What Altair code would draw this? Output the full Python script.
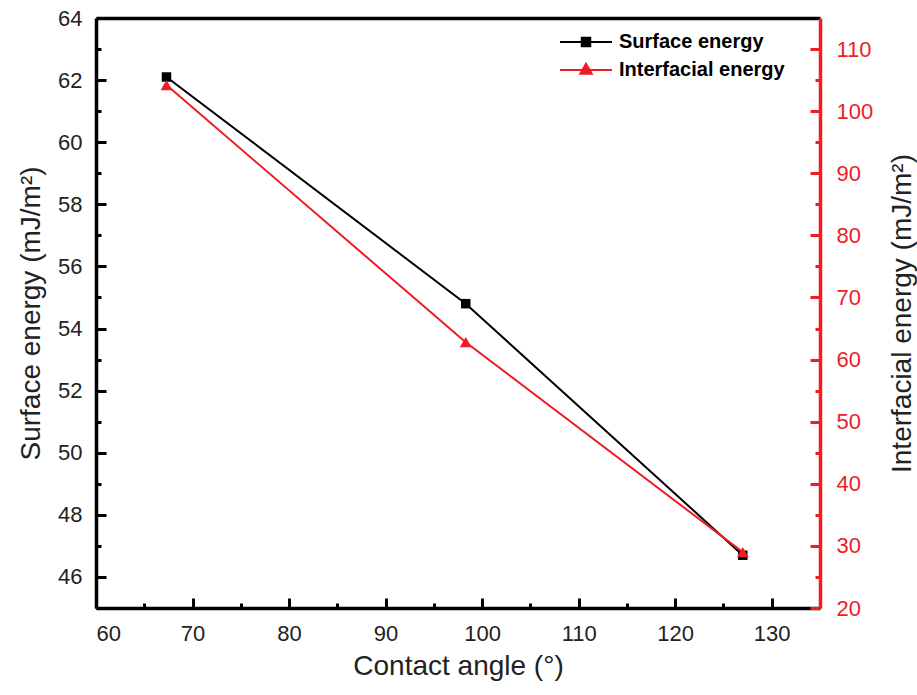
import altair as alt
import pandas as pd

# Measured points: contact angle vs. surface / interfacial energy
angles = [67.3, 98.3, 127.0]
surface_energy = [62.1, 54.8, 46.7]
interfacial_energy = [104.2, 62.8, 29.0]

series_names = ["Surface energy", "Interfacial energy"]
series_colors = ["black", "#ee1c25"]

# Tick positions
x_major_ticks = [60, 70, 80, 90, 100, 110, 120, 130]
x_minor_ticks = [65, 75, 85, 95, 105, 115, 125]
left_major_ticks = [46, 48, 50, 52, 54, 56, 58, 60, 62, 64]
left_minor_ticks = [45, 47, 49, 51, 53, 55, 57, 59, 61, 63]
right_major_ticks = [20, 30, 40, 50, 60, 70, 80, 90, 100, 110]
right_minor_ticks = [25, 35, 45, 55, 65, 75, 85, 95, 105]

RED = series_colors[1]
FONT = "Liberation Sans"
TEXT = "#222222"
TITLE_SIZE = 28
MAJOR = 10
MINOR = 5

surf = pd.DataFrame({"angle": angles, "value": surface_energy})
intf = pd.DataFrame({"angle": angles, "value": interfacial_energy})
legend_df = pd.DataFrame({"series": series_names, "angle": [60.0, 60.0], "value": [20.0, 20.0]})

x_scale = alt.Scale(domain=[60, 135], nice=False, zero=False)
left_scale = alt.Scale(domain=[45, 64], nice=False, zero=False)
right_scale = alt.Scale(domain=[20, 115], nice=False, zero=False)


# Inward-pointing ticks: shift each axis into the plot by its tick length
def tick_axis(orient, values, size, color="black", labels=False, **kw):
    base = dict(
        orient=orient, values=values, offset=-size, tickSize=size,
        tickWidth=3, tickColor=color, domain=False, grid=False,
        labels=labels, title=None,
    )
    if labels:
        base.update(labelFont=FONT, labelFontSize=22, labelColor=kw.pop("labelColor", TEXT))
    base.update(kw)
    return alt.Axis(**base)


# Plain frame edge (domain line only)
def edge_axis(orient, color="black"):
    return alt.Axis(
        orient=orient, domain=True, domainColor=color, domainWidth=3.5,
        ticks=False, labels=False, grid=False, title=None, offset=0,
    )


title_style = dict(titleFont=FONT, titleFontSize=TITLE_SIZE, titleFontWeight="normal", titleColor=TEXT)

x_major = tick_axis(
    "bottom", x_major_ticks, MAJOR, labels=True, labelPadding=15,
    title="Contact angle (°)", titlePadding=8, **title_style,
)
x_minor = tick_axis("bottom", x_minor_ticks, MINOR)

left_major = tick_axis(
    "left", left_major_ticks, MAJOR, labels=True, labelPadding=14,
    title="Surface energy (mJ/m²)", titlePadding=12, **title_style,
)
left_minor = tick_axis("left", left_minor_ticks, MINOR)

right_major = tick_axis(
    "right", right_major_ticks, MAJOR, color=RED, labels=True, labelPadding=16,
    labelColor=RED, title="Interfacial energy (mJ/m²)",
    titleAngle=270, titleBaseline="top", titlePadding=16, **title_style,
)
right_minor = tick_axis("right", right_minor_ticks, MINOR, color=RED)

surf_line = alt.Chart(surf).mark_line(color="black", strokeWidth=2).encode(
    x=alt.X("angle:Q", scale=x_scale, axis=x_major),
    y=alt.Y("value:Q", scale=left_scale, axis=left_major),
)
surf_pts = alt.Chart(surf).mark_point(
    shape="square", filled=True, size=90, color="black", opacity=1
).encode(
    x=alt.X("angle:Q", scale=x_scale, axis=x_minor),
    y=alt.Y("value:Q", scale=left_scale, axis=left_minor),
)
intf_line = alt.Chart(intf).mark_line(color=RED, strokeWidth=2).encode(
    x=alt.X("angle:Q", scale=x_scale, axis=None),
    y=alt.Y("value:Q", scale=right_scale, axis=right_major),
)
intf_pts = alt.Chart(intf).mark_point(
    shape="triangle-up", filled=True, size=140, color=RED, opacity=1
).encode(
    x=alt.X("angle:Q", scale=x_scale, axis=None),
    y=alt.Y("value:Q", scale=right_scale, axis=right_minor),
)

# Frame: black bottom and left edges
frame = alt.Chart(surf).transform_filter("false").mark_point().encode(
    x=alt.X("angle:Q", scale=x_scale, axis=edge_axis("bottom")),
    y=alt.Y("value:Q", scale=left_scale, axis=edge_axis("left")),
)

# Legend keys: a short line with the series marker in its middle
legend_shapes = [
    "M-5.2,0H5.2M-0.85,-0.85H0.85V0.85H-0.85Z",
    "M-5.2,0H5.2M0,-1.25L1.15,0.75H-1.15Z",
]
leg = alt.Legend(
    title=None, orient="none", legendX=480, legendY=14,
    labelFont=FONT, labelFontSize=20, labelFontWeight="bold",
    labelColor="black", labelLimit=0, symbolSize=100, symbolStrokeWidth=2,
    labelOffset=23, rowPadding=7, padding=0,
)
color_scale = alt.Scale(domain=series_names, range=series_colors)
legend_layer = alt.Chart(legend_df).transform_filter("false").mark_point(
    filled=True, strokeWidth=2, opacity=1
).encode(
    x=alt.X("angle:Q", scale=x_scale, axis=edge_axis("top")),
    y=alt.Y("value:Q", scale=right_scale, axis=edge_axis("right", RED)),
    fill=alt.Fill("series:N", scale=color_scale, legend=leg),
    stroke=alt.Stroke("series:N", scale=color_scale, legend=leg),
    shape=alt.Shape("series:N", scale=alt.Scale(domain=series_names, range=legend_shapes), legend=leg),
)

chart = (
    alt.layer(surf_line, surf_pts, intf_line, intf_pts, frame, legend_layer)
    .resolve_scale(y="independent")
    .resolve_axis(x="independent", y="independent")
    .properties(
        width=724, height=590,
        autosize=alt.AutoSizeParams(type="none"),
        padding={"left": 96, "top": 18, "right": 97, "bottom": 87},
        background="white",
    )
    .configure_view(stroke=None)
)

chart.save("out.html", embed_options={"renderer": "svg", "actions": False})
